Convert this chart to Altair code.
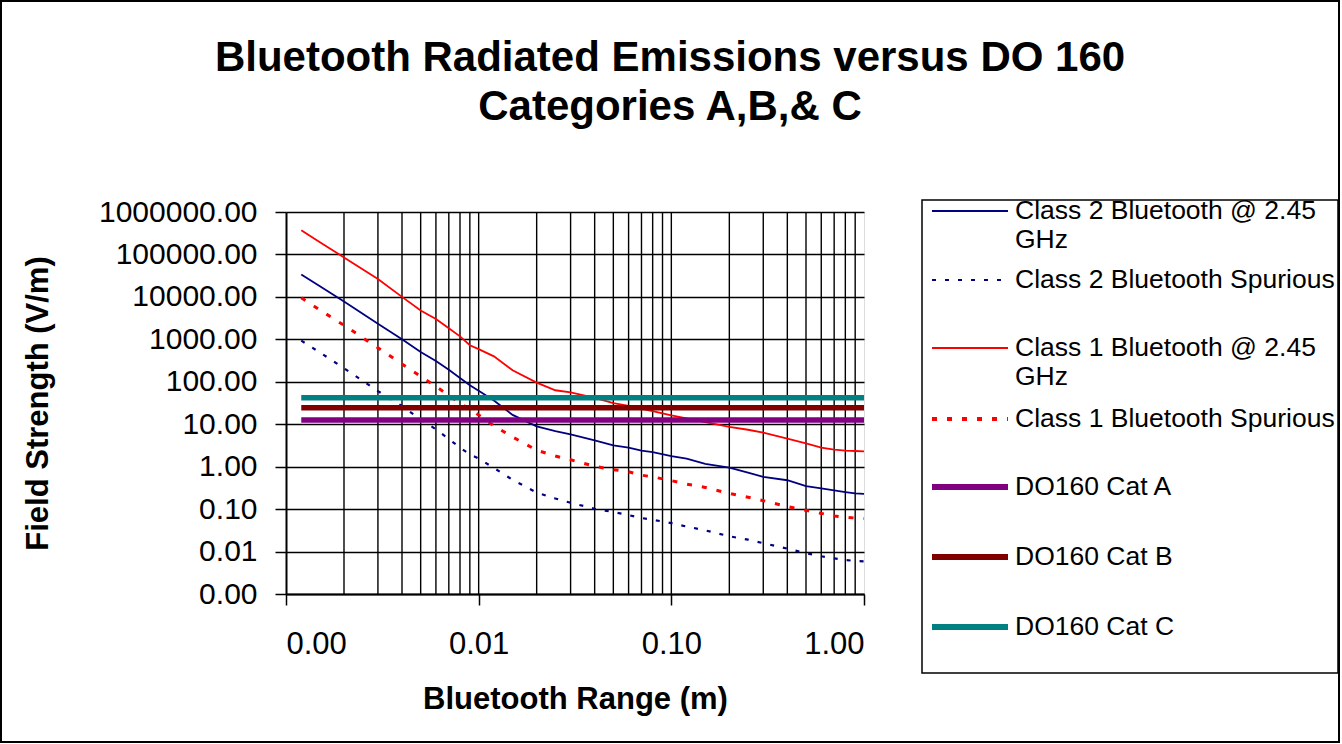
import math
import altair as alt
import pandas as pd

FONT = "Liberation Sans, Arial, sans-serif"

# ---- data ----
range_m = [0.0012, 0.0015, 0.002, 0.003, 0.004, 0.005, 0.006, 0.007, 0.008, 0.009,
           0.01, 0.012, 0.015, 0.02, 0.025, 0.03, 0.04, 0.05, 0.06, 0.07, 0.08,
           0.1, 0.12, 0.15, 0.2, 0.25, 0.3, 0.4, 0.5, 0.6, 0.7, 0.8, 0.9, 1.0]

class2_main = [33900, 17800, 7760, 2340, 1000, 501, 309, 191, 123, 83.2,
               61.7, 36.3, 16.6, 8.91, 6.92, 5.75, 4.17, 3.16, 2.82, 2.40, 2.19,
               1.78, 1.55, 1.17, 0.955, 0.724, 0.575, 0.479, 0.347, 0.309, 0.275, 0.251, 0.234, 0.229]

class2_spur = [933, 490, 209, 60.3, 26.9, 12.9, 7.59, 4.47, 2.82, 1.95,
               1.55, 0.933, 0.490, 0.245, 0.178, 0.141, 0.102, 0.0851, 0.0724, 0.0617, 0.0562,
               0.0468, 0.0389, 0.0316, 0.0229, 0.0191, 0.0158, 0.0117, 0.00912, 0.00776, 0.00692,
               0.00631, 0.00603, 0.00589]

class1_main = [372000, 195000, 85100, 26300, 10000, 4790, 3020, 1820, 1175, 724,
               589, 398, 186, 95.5, 63.1, 56.2, 41.7, 31.6, 26.9, 22.9, 20.4,
               16.2, 13.8, 11.2, 8.71, 7.41, 6.31, 4.57, 3.55, 2.82, 2.51, 2.40, 2.34, 2.29]

class1_spur = [9550, 4900, 2140, 631, 263, 135, 77.6, 47.9, 31.6, 22.4,
               16.6, 9.12, 5.01, 2.45, 1.78, 1.45, 1.02, 0.851, 0.759, 0.631, 0.575,
               0.468, 0.389, 0.324, 0.234, 0.191, 0.158, 0.115, 0.0933, 0.0794, 0.0692,
               0.0646, 0.0617, 0.0603]

do160_names = ["DO160 Cat A", "DO160 Cat B", "DO160 Cat C"]
do160_levels = [12.6, 24.3, 41.8]
do160_range = [0.0012, 1.0]

series_names = ["Class 2 Bluetooth @ 2.45 GHz", "Class 2 Bluetooth Spurious",
                "Class 1 Bluetooth @ 2.45 GHz", "Class 1 Bluetooth Spurious",
                "DO160 Cat A", "DO160 Cat B", "DO160 Cat C"]
series_colors = ["#000080", "#000080", "#FF0000", "#FF0000", "#800080", "#800000", "#008080"]
series_dashes = [None, [4, 9], None, [5, 10], None, None, None]
series_widths = [1.8, 2.2, 1.8, 3, 5.5, 5.5, 5.5]
legend_widths = [1.8, 2.2, 1.8, 4, 6, 6, 6]
legend_centers = [211, 280, 348, 419, 487, 557, 627]   # symbol centre rows (px)

grid_x = [0.002, 0.003, 0.004, 0.005, 0.006, 0.007, 0.008, 0.009, 0.01,
          0.02, 0.03, 0.04, 0.05, 0.06, 0.07, 0.08, 0.09, 0.1,
          0.2, 0.3, 0.4, 0.5, 0.6, 0.7, 0.8, 0.9]
x_ticks = [0.001, 0.01, 0.1, 1.0]
y_ticks = [0.001, 0.01, 0.1, 1, 10, 100, 1000, 10000, 100000, 1000000]

# ---- tables ----
rows = []
for name, vals in zip(series_names[:4], [class2_main, class2_spur, class1_main, class1_spur]):
    w = series_widths[series_names.index(name)]
    for r, v in zip(range_m, vals):
        rows.append({"series": name, "range": r, "field": v, "w": w})
for name, lvl in zip(do160_names, do160_levels):
    w = series_widths[series_names.index(name)]
    for r in do160_range:
        rows.append({"series": name, "range": r, "field": lvl, "w": w})
data_df = pd.DataFrame(rows)

grid_df = pd.DataFrame({"range": grid_x})
one_df = pd.DataFrame({"a": [0]})

# ---- scales / axes ----
x_scale = alt.Scale(type="log", domain=[0.001, 1.0], nice=False)
y_scale = alt.Scale(type="log", domain=[0.001, 1000000], nice=False)

x_axis = alt.Axis(values=x_ticks, format=".2f", title="Bluetooth Range (m)", grid=False,
                  labelFont=FONT, labelFontSize=31, labelColor="black", labelPadding=24,
                  tickSize=11, tickColor="black", tickWidth=1.5,
                  domainColor="black", domainWidth=2,
                  titleFont=FONT, titleFontSize=31, titleFontWeight="bold", titleColor="black",
                  titleBaseline="alphabetic", titleY=114)
y_axis = alt.Axis(values=y_ticks, format=".2f", title="Field Strength (V/m)", grid=True,
                  gridColor="black", gridWidth=1.4,
                  labelFont=FONT, labelFontSize=30, labelColor="black", labelPadding=18,
                  tickSize=11, tickColor="black", tickWidth=1.5,
                  domainColor="black", domainWidth=2,
                  titleFont=FONT, titleFontSize=31, titleFontWeight="bold", titleColor="black",
                  titleAngle=270, titleAlign="center", titleBaseline="alphabetic",
                  titleX=-239, titleY=191)

PLOT_LEFT, PLOT_TOP = 286, 212
SYM_LEN = 76
SYM_CX, LABEL_X = 970, 1015

grid_layer = alt.Chart(grid_df).mark_rule(color="black", strokeWidth=1.4).encode(
    x=alt.X("range:Q", scale=x_scale, axis=x_axis)
)

series_layers = []
for name, col, dash, lw, cy in zip(series_names, series_colors, series_dashes,
                                   legend_widths, legend_centers):
    size = max(math.ceil(SYM_LEN + lw), 26)
    lg = alt.Legend(
        title=None, orient="none",
        legendX=SYM_CX - PLOT_LEFT - size / 2, legendY=cy - PLOT_TOP - size / 2,
        symbolType="stroke", symbolSize=SYM_LEN ** 2, symbolStrokeWidth=lw,
        symbolOffset=0, labelOffset=LABEL_X - SYM_CX - size / 2, padding=0,
        labelFont=FONT, labelFontSize=26.5, labelColor="black", labelLimit=420,
        labelBaseline="middle",
        labelExpr="indexof(datum.label, ' GHz') > 0 ? [replace(datum.label, ' GHz', ''), 'GHz'] : datum.label",
    )
    enc = dict(
        x=alt.X("range:Q", scale=x_scale, axis=x_axis),
        y=alt.Y("field:Q", scale=y_scale, axis=y_axis),
        color=alt.Color("series:N", scale=alt.Scale(domain=[name], range=[col]), legend=lg),
        strokeWidth=alt.StrokeWidth("w:Q", scale=None, legend=None),
    )
    if dash is not None:
        enc["strokeDash"] = alt.StrokeDash("series:N", scale=alt.Scale(domain=[name], range=[dash]),
                                           legend=lg)
    layer = alt.Chart(data_df).transform_filter(
        alt.datum.series == name
    ).mark_line(clip=True, strokeCap="butt").encode(**enc)
    series_layers.append(layer)

legend_box = alt.Chart(one_df).mark_rect(fill="transparent", stroke="black", strokeWidth=1.5).encode(
    x=alt.value(636), x2=alt.value(1052), y=alt.value(-12), y2=alt.value(461)
)

frame_layer = alt.Chart(one_df).mark_rect(fill="transparent", stroke="black", strokeWidth=2).encode(
    x=alt.value(-285), x2=alt.value(1053), y=alt.value(-211), y2=alt.value(530)
)

chart = alt.layer(grid_layer, *series_layers, legend_box, frame_layer).resolve_scale(
    color="independent", strokeDash="independent"
).properties(
    width=578, height=382,
    autosize=alt.AutoSizeParams(type="none"),
    padding={"left": 286, "top": 212, "right": 478, "bottom": 150},
    title=alt.TitleParams(
        text=["Bluetooth Radiated Emissions versus DO 160", "Categories A,B,& C"],
        font=FONT, fontSize=42, fontWeight="bold", color="black",
        anchor="middle", frame="group", dx=95, offset=-129, lineHeight=49,
    ),
).configure_view(
    fill="#CCFFFF", stroke="#808080", strokeWidth=2
).configure(background="white")

chart.save("out.html", embed_options={"renderer": "svg", "actions": False})
